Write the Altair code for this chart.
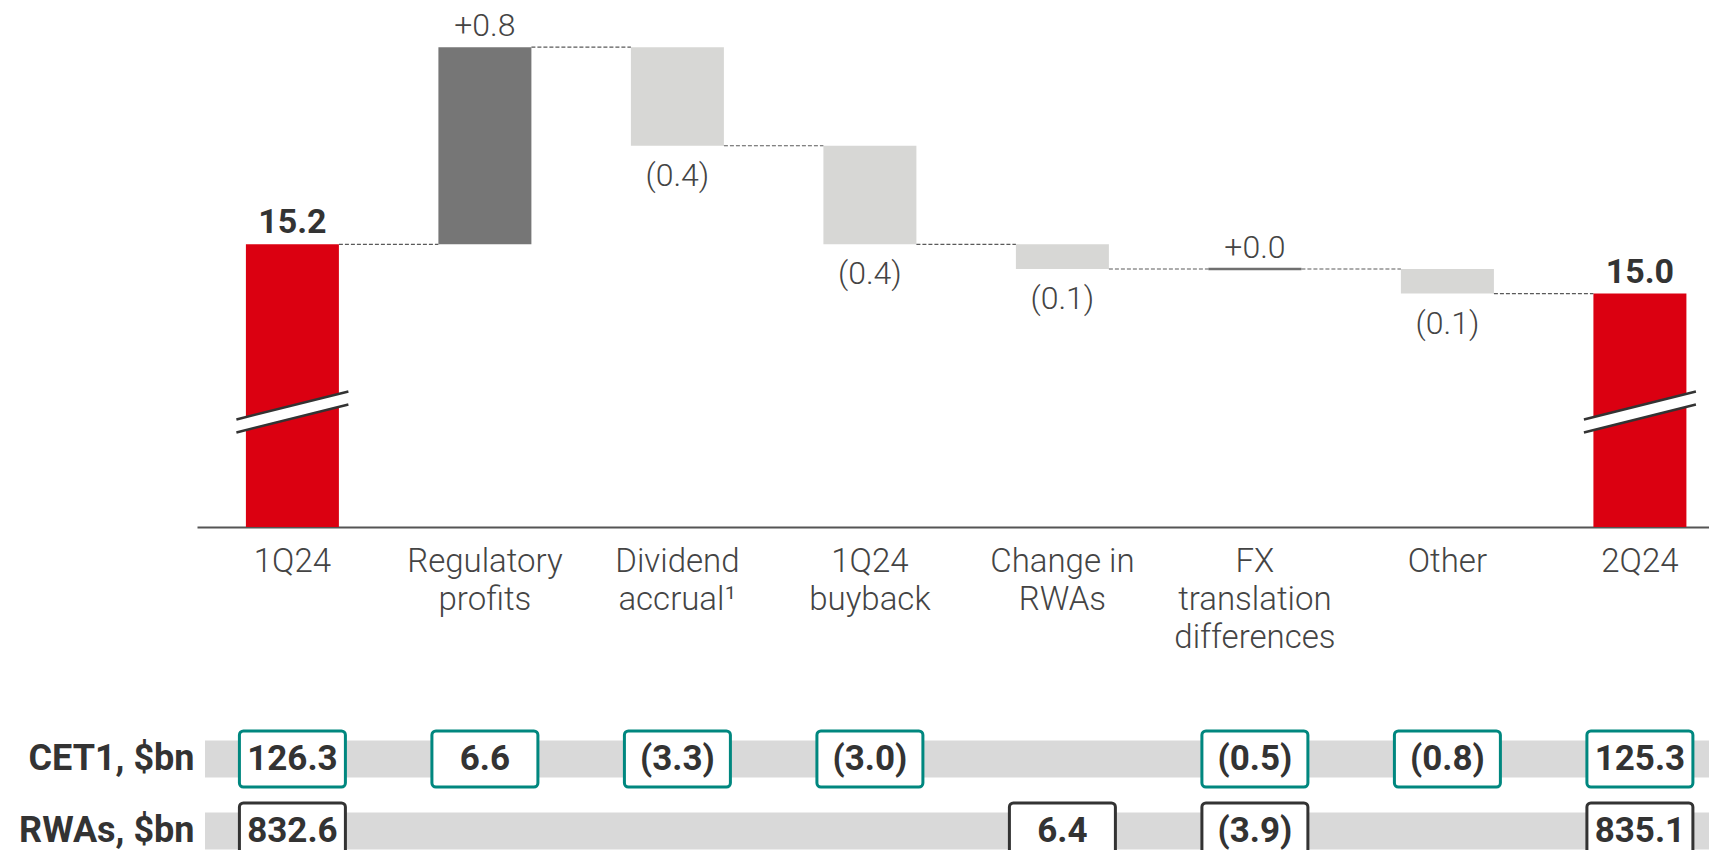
import altair as alt
import pandas as pd

# ---------------- data ----------------
categories = ["1Q24", "Regulatory\nprofits", "Dividend\naccrual\u00b9", "1Q24\nbuyback",
              "Change in\nRWAs", "FX\ntranslation\ndifferences", "Other", "2Q24"]
kinds = ["total", "step", "step", "step", "step", "step", "step", "total"]
values = [15.2, 0.8, -0.4, -0.4, -0.1, 0.0, -0.1, 15.0]

row_names = ["CET1, $bn", "RWAs, $bn"]
cet1_values = [126.3, 6.6, -3.3, -3.0, None, -0.5, -0.8, 125.3]
rwa_values = [832.6, None, None, None, 6.4, -3.9, None, 835.1]

# ---------------- layout constants ----------------
FONT = "Roboto"
Y_MIN, Y_MAX = 14.053, 16.159      # broken value axis
BRK = 14.52                          # where the axis-break marks sit
W = 1512
H_TOP = 519
H_BOT = 135
HALF_BAR = 46.5

RED, DARK, LIGHT = "#DB0011", "#767676", "#D7D7D5"
TEAL, BOXDARK = "#00877F", "#333333"


def fmt_delta(v):
    return f"+{v:.1f}" if v >= 0 else f"({abs(v):.1f})"


def fmt_table(v):
    return f"{v:.1f}" if v >= 0 else f"({abs(v):.1f})"


# ---------------- waterfall table ----------------
recs = []
running = None
for c, k, v in zip(categories, kinds, values):
    if k == "total":
        lo, hi, end = Y_MIN, v, v
        label, cls = f"{v:.1f}", "total"
    else:
        start, end = running, running + v
        lo, hi = min(start, end), max(start, end)
        label = fmt_delta(v)
        cls = "up" if v > 0 else ("down" if v < 0 else "zero")
    running = end
    recs.append(dict(cat=c, lo=lo, hi=hi, end=end, label=label, cls=cls))
wf = pd.DataFrame(recs)

conn = pd.DataFrame([dict(cat=categories[i], next=categories[i + 1], level=recs[i]["end"])
                     for i in range(len(categories) - 1)])

x_top = alt.X(
    "cat:N", sort=categories,
    scale=alt.Scale(paddingInner=0.5169, paddingOuter=0.1857, align=0.684),
    axis=alt.Axis(title=None, labelExpr="split(datum.label, '\\n')", labelAngle=0,
                  ticks=False, labelPadding=18, labelFont=FONT, labelFontSize=33,
                  labelFontWeight=300, labelColor="#444444", labelLineHeight=38,
                  labelLimit=500, labelOverlap=False, domainColor="#555555",
                  domainWidth=2, grid=False),
)
ys_top = alt.Scale(domain=[Y_MIN, Y_MAX], nice=False, zero=False)

base = alt.Chart(wf)

bars = base.transform_filter("datum.cls != 'zero'").mark_bar().encode(
    x=x_top, y=alt.Y("lo:Q", scale=ys_top, axis=None), y2="hi:Q",
    color=alt.Color("cls:N", scale=alt.Scale(domain=["total", "up", "down"],
                                             range=[RED, DARK, LIGHT]), legend=None),
)

zero_line = base.transform_filter("datum.cls == 'zero'").mark_rule(
    color="#6F6F6F", strokeWidth=2.5, xOffset=-HALF_BAR, x2Offset=HALF_BAR
).encode(x=x_top, x2="cat:N", y=alt.Y("hi:Q", scale=ys_top, axis=None))

connectors = alt.Chart(conn).mark_rule(
    color="#5A5A5A", strokeWidth=1.2, strokeDash=[4, 2], xOffset=HALF_BAR, x2Offset=-HALF_BAR
).encode(x=x_top, x2="next:N", y=alt.Y("level:Q", scale=ys_top, axis=None))

totals = base.transform_filter("datum.cls == 'total'")


def brk_rule(color, width, off):
    return totals.mark_rule(color=color, strokeWidth=width, strokeCap="butt",
                            xOffset=-56, x2Offset=56, yOffset=14 + off, y2Offset=-14 + off).encode(
        x=x_top, x2="cat:N",
        y=alt.Y(datum=BRK, scale=ys_top, axis=None),
        y2=alt.datum(BRK))


breaks = [brk_rule("white", 12, 0), brk_rule("#333333", 2.5, -6.5), brk_rule("#333333", 2.5, 6.5)]

lab_total = totals.mark_text(font=FONT, fontSize=34, fontWeight="bold", color="#333333",
                             baseline="alphabetic", dy=-11).encode(
    x=x_top, y=alt.Y("hi:Q", scale=ys_top, axis=None), text="label:N")
lab_up = base.transform_filter("datum.cls == 'up' || datum.cls == 'zero'").mark_text(
    font=FONT, fontSize=32, fontWeight=300, color="#444444", baseline="alphabetic", dy=-11).encode(
    x=x_top, y=alt.Y("hi:Q", scale=ys_top, axis=None), text="label:N")
lab_down = base.transform_filter("datum.cls == 'down'").mark_text(
    font=FONT, fontSize=32, fontWeight=300, color="#444444", baseline="alphabetic", dy=40).encode(
    x=x_top, y=alt.Y("lo:Q", scale=ys_top, axis=None), text="label:N")

top = alt.layer(bars, zero_line, connectors, *breaks, lab_total, lab_up, lab_down).properties(
    width=W, height=H_TOP)

# ---------------- bottom table ----------------
rows_df = pd.DataFrame({"row": [0, 1], "rowname": row_names})
cells = []
for r, (name, vals) in enumerate(zip(row_names, [cet1_values, rwa_values])):
    for c, v in zip(categories, vals):
        if v is not None:
            cells.append(dict(cat=c, row=r, rowname=name, label=fmt_table(v)))
cells = pd.DataFrame(cells)

y_scale_b = alt.Scale(domain=[-0.6111, 1.2639], nice=False, zero=False, reverse=True)
label_expr = f"datum.value == 0 ? '{row_names[0]}' : '{row_names[1]}'"
y_axis_b = alt.Axis(title=None, values=[0, 1], labelExpr=label_expr, domain=False,
                    ticks=False, grid=False, labelPadding=3, labelFont=FONT,
                    labelFontSize=36, labelFontWeight="bold", labelColor="#333333",
                    labelBaseline="middle", minExtent=189, labelLimit=400)
y_b = alt.Y("row:Q", scale=y_scale_b, axis=y_axis_b)
x_b = alt.X("cat:N", sort=categories,
            scale=alt.Scale(paddingInner=0.4494, paddingOuter=0.152, align=0.7248), axis=None)

bands = alt.Chart(rows_df).mark_rule(color="#D9D9D9", strokeWidth=37, strokeCap="butt",
                                     clip=True).encode(
    x=alt.value(8), x2=alt.value(W), y=y_b)

boxes = alt.Chart(cells).mark_rect(fill="white", strokeWidth=3, cornerRadius=4, clip=True,
                                   yOffset=-28, y2Offset=28).encode(
    x=x_b, y=y_b, y2="row:Q",
    stroke=alt.Stroke("rowname:N", scale=alt.Scale(domain=row_names, range=[TEAL, BOXDARK]),
                      legend=None))

box_text = alt.Chart(cells).mark_text(font=FONT, fontSize=35, fontWeight="bold", color="#333333",
                                      baseline="middle").encode(
    x=x_b, y=y_b, text="label:N")

bottom = alt.layer(bands, boxes, box_text).properties(width=W, height=H_BOT)

chart = alt.vconcat(top, bottom, spacing=188, bounds="flush").resolve_scale(
    x="independent", y="independent").properties(padding=0).configure_view(stroke=None)

chart.save("out.html", embed_options={"renderer": "svg", "actions": False})
